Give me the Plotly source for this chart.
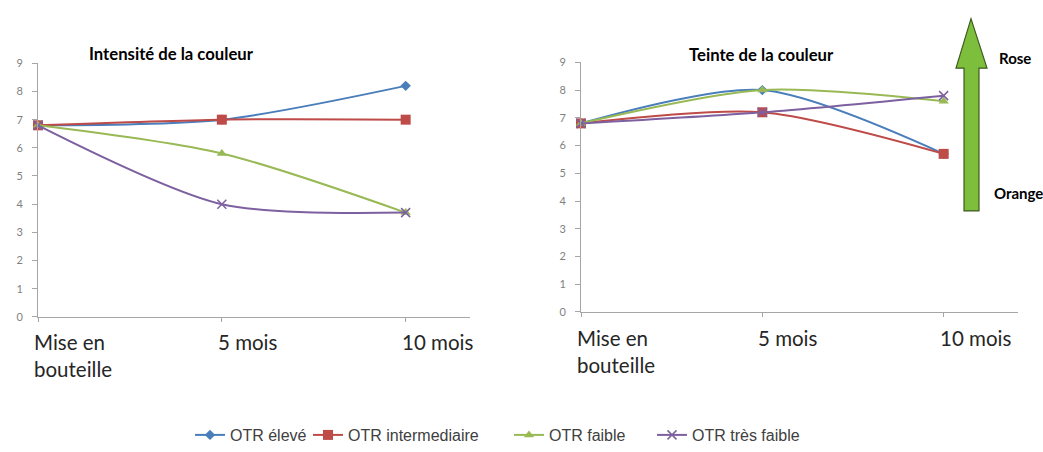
import plotly.graph_objects as go

# Categories (sampling times)
periods = ["Mise en bouteille", "5 mois", "10 mois"]
period_labels = ["Mise en<br>bouteille", "5 mois", "10 mois"]

series_names = ["OTR élevé", "OTR intermediaire", "OTR faible", "OTR très faible"]

# Intensité de la couleur
intensite_eleve = [6.8, 7.0, 8.2]
intensite_inter = [6.8, 7.0, 7.0]
intensite_faible = [6.8, 5.8, 3.7]
intensite_tres_faible = [6.8, 4.0, 3.7]

# Teinte de la couleur
teinte_eleve = [6.8, 8.0, 5.7]
teinte_inter = [6.8, 7.2, 5.7]
teinte_faible = [6.8, 8.0, 7.6]
teinte_tres_faible = [6.8, 7.2, 7.8]

y_ticks = list(range(0, 10))

colors = ["#4A7EBB", "#BE4B48", "#98B954", "#7D60A0"]
symbols = ["diamond", "square", "triangle-up", "x-thin"]
sizes = [8, 10, 9, 9]

W, H = 1043, 452


def px_x(v):
    return v / W


def px_y(v):
    return 1 - v / H


fig = go.Figure()

legend_ids = ["legend", "legend2", "legend3", "legend4"]
# left edge (px) of each legend entry's text
legend_text_x = [230, 348, 549, 692]

panels = [
    ("x", "y", [intensite_eleve, intensite_inter, intensite_faible, intensite_tres_faible], True),
    ("x2", "y2", [teinte_eleve, teinte_inter, teinte_faible, teinte_tres_faible], False),
]

for xa, ya, data, show in panels:
    for name, vals, c, s, sz, lg in zip(series_names, data, colors, symbols, sizes, legend_ids):
        fig.add_trace(go.Scatter(
            x=periods, y=vals, name=name, xaxis=xa, yaxis=ya,
            mode="lines+markers",
            line=dict(color=c, width=2, shape="spline", smoothing=0.8),
            marker=dict(symbol=s, size=sz, color=c,
                        line=dict(color=c, width=1.5 if s == "x-thin" else 0)),
            cliponaxis=False, showlegend=show, legend=lg,
        ))

axis_line = "#A6A6A6"
common_x = dict(type="category", showgrid=False, zeroline=False, showline=True,
                linecolor=axis_line, linewidth=1, ticks="outside", ticklen=4,
                tickcolor=axis_line, showticklabels=False, fixedrange=True)
common_y = dict(range=[0, 9], tickvals=y_ticks, showgrid=False, zeroline=False,
                showline=True, linecolor=axis_line, linewidth=1, ticks="outside",
                ticklen=5, tickcolor=axis_line, ticklabelstandoff=7,
                tickfont=dict(family="Lato", size=11, color="#7F7F7F"),
                fixedrange=True)

legend_font = dict(family="Liberation Sans", size=16, color="#404040")
legends = {}
for lg, tx in zip(legend_ids, legend_text_x):
    legends[lg] = dict(orientation="h", x=px_x(tx - 40), xanchor="left",
                       y=px_y(441), yanchor="middle", font=legend_font,
                       bgcolor="rgba(0,0,0,0)", borderwidth=0)

fig.update_layout(
    width=W, height=H,
    margin=dict(l=0, r=0, t=0, b=0),
    paper_bgcolor="white", plot_bgcolor="white",
    xaxis=dict(common_x, domain=[px_x(38), px_x(470)], range=[0, 2.35], anchor="y"),
    yaxis=dict(common_y, domain=[px_y(319), px_y(58)], anchor="x"),
    xaxis2=dict(common_x, domain=[px_x(581), px_x(1018)], range=[0, 2.41], anchor="y2"),
    yaxis2=dict(common_y, domain=[px_y(314), px_y(57)], anchor="x2"),
    showlegend=True,
    **legends,
)

annotations = []
# Panel titles
title_font = dict(family="Lato", size=16.7, color="#000000")
annotations.append(dict(text="<b>Intensité de la couleur</b>", xref="paper", yref="paper",
                        x=px_x(171), y=px_y(48), xanchor="center", yanchor="middle",
                        showarrow=False, font=title_font))
annotations.append(dict(text="<b>Teinte de la couleur</b>", xref="paper", yref="paper",
                        x=px_x(761), y=px_y(49), xanchor="center", yanchor="middle",
                        showarrow=False, font=title_font))

# Category labels, left-aligned at each category
for xa, top in [("x", 330), ("x2", 326)]:
    for cat, lab in zip(periods, period_labels):
        annotations.append(dict(text=lab, xref=xa, yref="paper", x=cat, y=px_y(top),
                                xanchor="left", yanchor="top", align="left",
                                xshift=-6, showarrow=False,
                                font=dict(family="Lato", size=20.5, color="#262626")))

# Hue scale labels
annotations.append(dict(text="<b>Rose</b>", xref="paper", yref="paper", x=px_x(997), y=px_y(53),
                        xanchor="left", yanchor="middle", showarrow=False,
                        font=dict(family="Lato", size=15, color="#000000")))
annotations.append(dict(text="<b>Orange</b>", xref="paper", yref="paper", x=px_x(992), y=px_y(192),
                        xanchor="left", yanchor="middle", showarrow=False,
                        font=dict(family="Lato", size=15, color="#000000")))
fig.update_layout(annotations=annotations)

# Upward arrow from Orange to Rose
pts = [(964, 210), (979, 210), (979, 63), (987, 63), (971, 12), (956, 63), (964, 63)]
path = "M " + " L ".join(f"{px_x(a):.5f},{px_y(b):.5f}" for a, b in pts) + " Z"
fig.add_shape(type="path", xref="paper", yref="paper", path=path,
              fillcolor="#7DBE3C", line=dict(color="#3D5A1E", width=1.2))

fig.write_html("out.html")
